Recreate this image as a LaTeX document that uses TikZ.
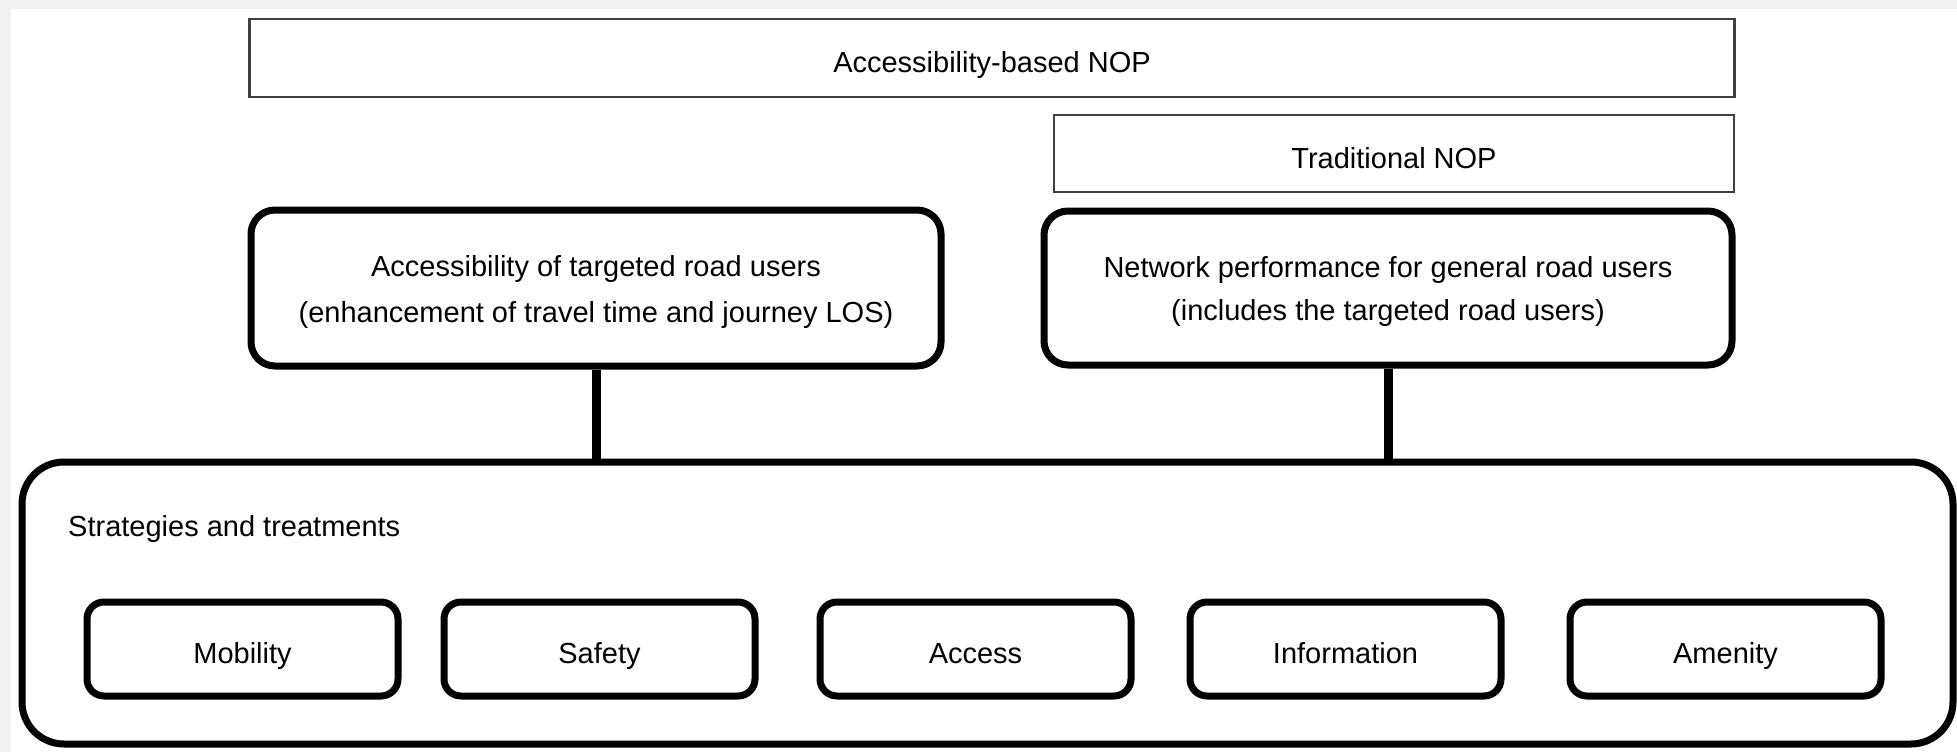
\documentclass[tikz,border=0pt]{standalone}
\usepackage{fontspec}
\setmainfont{Liberation Sans}
\definecolor{bggrey}{HTML}{F0F0F0}
\definecolor{thinline}{HTML}{404040}
\begin{document}
\begin{tikzpicture}[x=1pt,y=-1pt,
  font=\fontsize{29}{42}\selectfont,
  oneline/.style={text height=29pt, text depth=0pt},
  thinbox/.style={draw=thinline, line width=2.5pt, fill=white, inner sep=0pt, align=center, oneline},
  roundbox/.style={draw=black, line width=7pt, rounded corners=24pt, fill=white, inner sep=0pt, align=center},
  bigbox/.style={draw=black, line width=7pt, rounded corners=42pt, fill=white, inner sep=0pt},
  smallbox/.style={draw=black, line width=7pt, rounded corners=17pt, fill=white, inner sep=0pt,
    minimum width=311pt, minimum height=94pt, align=center, oneline},
  link/.style={draw=black, line width=9pt}]
\fill[bggrey] (0,0) rectangle (1957,752);
\fill[white] (11,9) rectangle (1957,752);
\useasboundingbox (0,0) rectangle (1957,752);

\node[thinbox, minimum width=1485pt, minimum height=78pt] (abnop) at (992,58) {Accessibility-based NOP};
\node[thinbox, minimum width=680pt, minimum height=77pt] (tnop) at (1394,153.5) {Traditional NOP};

\node[roundbox, minimum width=690pt, minimum height=156pt, font=\fontsize{29}{46}\selectfont,
  text height=68pt, text depth=0pt] (acc) at (596,288)
  {Accessibility of targeted road users\\(enhancement of travel time and journey LOS)};
\node[roundbox, minimum width=688pt, minimum height=154pt, font=\fontsize{29}{43}\selectfont,
  text height=64pt, text depth=0pt] (net) at (1388,288)
  {Network performance for general road users\\(includes the targeted road users)};

\node[bigbox, minimum width=1931pt, minimum height=282pt] (strat) at (987.5,603) {};
\node[anchor=west, inner sep=0pt, oneline] (stratlabel) at (68,522) {Strategies and treatments};

\node[smallbox] (mob) at (242.5,649) {Mobility};
\node[smallbox] (saf) at (599.5,649) {Safety};
\node[smallbox] (acs) at (975.5,649) {Access};
\node[smallbox] (inf) at (1345.5,649) {Information};
\node[smallbox] (ame) at (1725.5,649) {Amenity};

\draw[link] (acc.south) -- (acc.south |- strat.north);
\draw[link] (net.south) -- (net.south |- strat.north);
\end{tikzpicture}
\end{document}
